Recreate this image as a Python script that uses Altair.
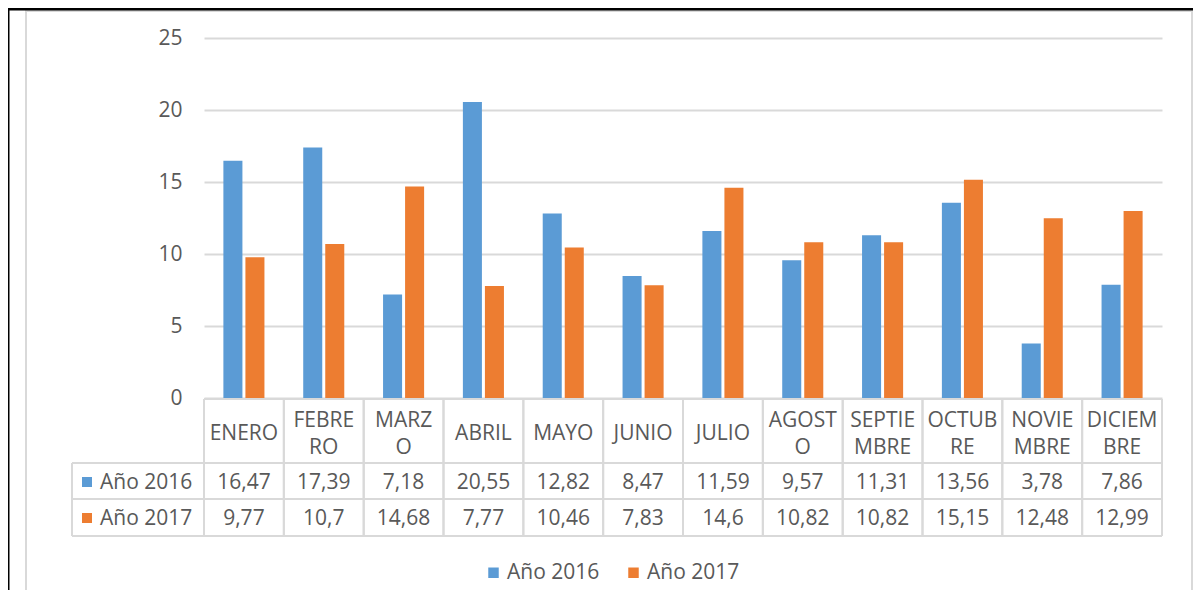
import altair as alt
import pandas as pd

# ---------------- data ----------------
meses = ["ENERO", "FEBRERO", "MARZO", "ABRIL", "MAYO", "JUNIO", "JULIO",
         "AGOSTO", "SEPTIEMBRE", "OCTUBRE", "NOVIEMBRE", "DICIEMBRE"]
cabeceras = ["ENERO", "FEBRE\nRO", "MARZ\nO", "ABRIL", "MAYO", "JUNIO", "JULIO",
             "AGOST\nO", "SEPTIE\nMBRE", "OCTUB\nRE", "NOVIE\nMBRE", "DICIEM\nBRE"]
series = ["Año 2016", "Año 2017"]
valores_2016 = [16.47, 17.39, 7.18, 20.55, 12.82, 8.47, 11.59, 9.57, 11.31, 13.56, 3.78, 7.86]
valores_2017 = [9.77, 10.7, 14.68, 7.77, 10.46, 7.83, 14.6, 10.82, 10.82, 15.15, 12.48, 12.99]
ticks_y = [0, 5, 10, 15, 20, 25]
titulo = "Imagen 05 Toneladas Recogidas años 2016 y 2017."

colores = ["#5B9BD5", "#ED7D31"]

rows = []
for s, vals in zip(series, [valores_2016, valores_2017]):
    for m, v in zip(meses, vals):
        rows.append({"mes": m, "serie": s, "valor": v, "etiqueta": str(v).replace(".", ",")})
df = pd.DataFrame(rows)
df_cab = pd.DataFrame({"mes": meses, "cab": cabeceras,
                       "lineas": [c.count("\n") + 1 for c in cabeceras]})
one = pd.DataFrame({"k": [0]})

# ---------------- style ----------------
W, H = 958, 360
FONT = "Open Sans"
GRIS = "#d9d9d9"
TXT = "#595959"
FS = 21


def xenc(bp=None):
    kw = {}
    if bp is not None:
        kw["bandPosition"] = bp
    return alt.X("mes:N", sort=meses, scale=alt.Scale(paddingInner=0, paddingOuter=0),
                 axis=None, **kw)


color = alt.Color(
    "serie:N",
    scale=alt.Scale(domain=series, range=colores),
    legend=alt.Legend(orient="none", legendX=279, legendY=524, direction="horizontal",
                      title=None, symbolType="square", symbolSize=110, symbolStrokeWidth=0,
                      labelFont=FONT, labelFontSize=FS, labelColor=TXT,
                      columnPadding=23, labelOffset=3, padding=0),
)

barras = alt.Chart(df).mark_bar().encode(
    x=xenc(),
    xOffset=alt.XOffset("serie:N", sort=series,
                        scale=alt.Scale(paddingInner=0.136, paddingOuter=0.88)),
    y=alt.Y("valor:Q", scale=alt.Scale(domain=[0, 25], nice=False),
            axis=alt.Axis(values=ticks_y, grid=True, gridColor=GRIS, gridWidth=2,
                          domain=False, ticks=False, labelPadding=22,
                          labelFont=FONT, labelFontSize=FS, labelColor=TXT, title=None)),
    color=color,
)


def hrule(y, x0, x1, col=GRIS, sw=2):
    return alt.Chart(one).mark_rule(color=col, strokeWidth=sw).encode(
        x=alt.value(x0), x2=alt.value(x1), y=alt.value(y))


def vrule(x, y0, y1, col=GRIS, sw=2):
    return alt.Chart(one).mark_rule(color=col, strokeWidth=sw).encode(
        x=alt.value(x), y=alt.value(y0), y2=alt.value(y1))


# outer frame
marco = alt.Chart(one).mark_rect(filled=False, stroke=GRIS, strokeWidth=2).encode(
    x=alt.value(-178), x2=alt.value(988), y=alt.value(-27), y2=alt.value(620))
linea_negra = hrule(-29, -196, 989, col="black", sw=3)
linea_negra_izq = vrule(-196, -29, 620, col="black", sw=3)
tit = alt.Chart(one).mark_text(font="Liberation Sans", fontSize=20, color="black",
                               align="center", baseline="alphabetic").encode(
    x=alt.value(401), y=alt.value(-32), text=alt.value(titulo))

# table grid
v_izq = alt.Chart(df_cab).mark_rule(color=GRIS, strokeWidth=2).encode(
    x=xenc(0), y=alt.value(361), y2=alt.value(498))
v_der = alt.Chart(df_cab).mark_rule(color=GRIS, strokeWidth=2).encode(
    x=xenc(1), y=alt.value(361), y2=alt.value(498))
col_leyenda = vrule(-132, 425, 498)
h1 = hrule(361, 0, W)
h2 = hrule(425, -132, W)
h3 = hrule(461, -132, W)
h4 = hrule(498, -132, W)

cab1 = alt.Chart(df_cab).transform_filter(alt.datum.lineas == 1).mark_text(
    font=FONT, fontSize=FS, color=TXT, baseline="middle", align="center").encode(
    x=xenc(), y=alt.value(396), text="cab:N")
cab2 = alt.Chart(df_cab).transform_filter(alt.datum.lineas == 2).mark_text(
    lineBreak="\n", lineHeight=27, font=FONT, fontSize=FS,
    color=TXT, baseline="middle", align="center").encode(
    x=xenc(), y=alt.value(383), text="cab:N")

capas = [marco, linea_negra, linea_negra_izq, tit, barras,
         v_izq, v_der, col_leyenda, h1, h2, h3, h4, cab1, cab2]

for i, (s, yy) in enumerate(zip(series, [445, 481])):
    capas.append(
        alt.Chart(df).transform_filter(alt.datum.serie == s).mark_text(
            font=FONT, fontSize=FS, color=TXT, baseline="middle", align="center").encode(
            x=xenc(), y=alt.value(yy), text="etiqueta:N"))
    capas.append(
        alt.Chart(one).mark_point(shape="square", filled=True, size=100, opacity=1).encode(
            x=alt.value(-117), y=alt.value(yy - 1), color=alt.value(colores[i])))
    capas.append(
        alt.Chart(one).mark_text(font=FONT, fontSize=FS, color=TXT, baseline="middle",
                                 align="left").encode(
            x=alt.value(-104), y=alt.value(yy), text=alt.value(s)))

chart = alt.layer(*capas).properties(
    width=W, height=H,
    padding={"left": 196, "top": 30, "right": 31, "bottom": 192},
    autosize=alt.AutoSizeParams(type="none"),
    background="white",
).configure_view(strokeWidth=0)

chart.save("out.html", embed_options={"renderer": "svg", "actions": False})
